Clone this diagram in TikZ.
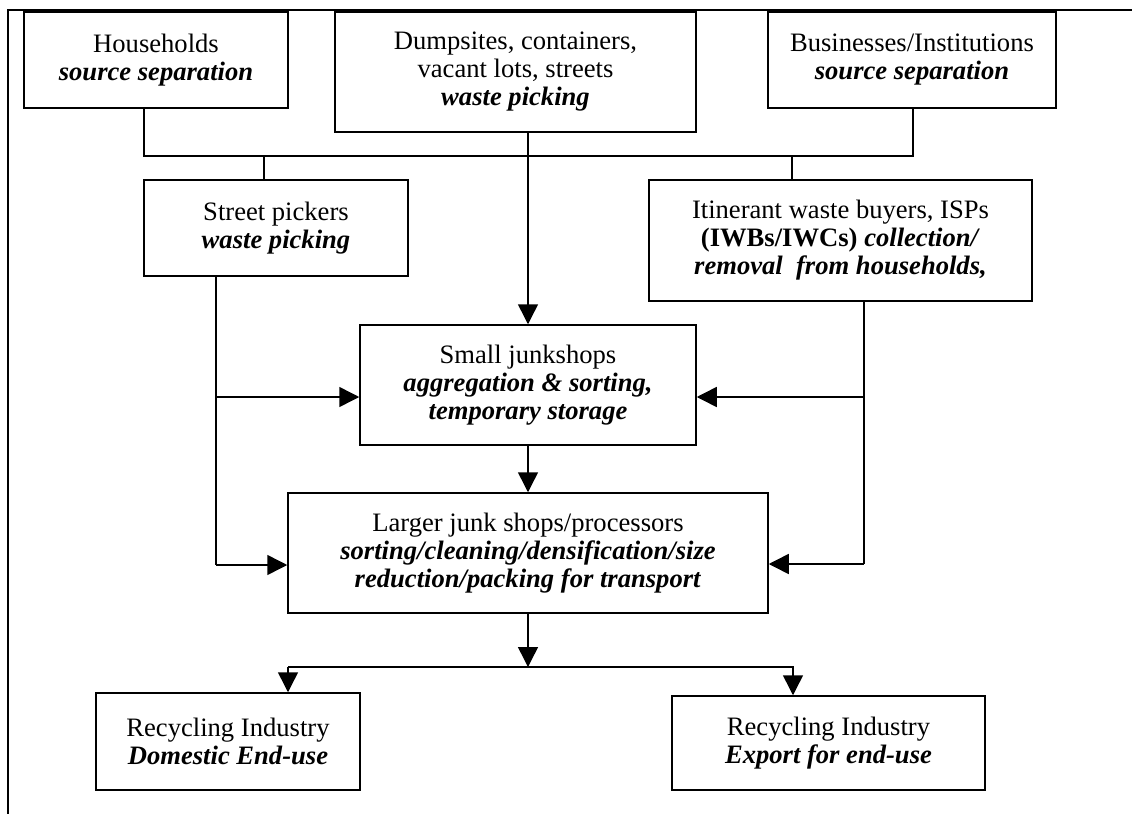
\documentclass[tikz,border=0pt]{standalone}
\usepackage{fontspec}
\setmainfont{Liberation Serif}
\usepackage{tikz}
\usetikzlibrary{positioning, arrows.meta}

\newcommand{\act}[1]{\textbf{\textit{#1}}}

\begin{document}
\begin{tikzpicture}[x=0.5pt, y=-0.5pt,
    box/.style={draw, line width=0.75pt, inner sep=0pt, align=center,
      font=\fontsize{13.3}{14}\selectfont},
    link/.style={line width=0.75pt},
    arr/.style={link, -{Triangle[length=10pt,width=10pt]}}]
    \useasboundingbox (0,0) rectangle (1132,814);
    \draw[line width=1pt] (8,814) -- (8,10) -- (1132,10);

    % sources
    \node(households)[box, minimum width=132pt, minimum height=48pt] at (156,60)
      {Households\\\act{source separation}};
    \node(dumpsites)[box, minimum width=180.5pt, minimum height=60pt] at (515.5,72)
      {Dumpsites, containers,\\vacant lots, streets\\\act{waste picking}};
    \node(businesses)[box, minimum width=144pt, minimum height=48pt] at (912,60)
      {Businesses/Institutions\\\act{source separation}};

    % collectors
    \node(street_pickers)[box, minimum width=132pt, minimum height=48pt] at (276,228)
      {Street pickers\\\act{waste picking}};
    \node(buyers)[box, minimum width=191.5pt, minimum height=60.5pt] at (840.5,240.5)
      {Itinerant waste buyers, ISPs\\\textbf{(IWBs/IWCs)} \act{collection/}\\\act{removal\ \ from households,}};

    % junkshops
    \node(small_shops)[box, minimum width=168pt, minimum height=60pt] at (528,385)
      {Small junkshops\\\act{aggregation \& sorting,}\\\act{temporary storage}};
    \node(large_shops)[box, minimum width=240pt, minimum height=60pt] at (528,553)
      {Larger junk shops/processors\\\act{sorting/cleaning/densification/size}\\\act{reduction/packing for transport}};

    % end use
    \node(domestic)[box, minimum width=132pt, minimum height=48.5pt] at (228,741.5)
      {Recycling Industry\\\act{Domestic End-use}};
    \node(export)[box, minimum width=156.5pt, minimum height=47pt] at (828.5,743)
      {Recycling Industry\\\act{Export for end-use}};

    \coordinate(join_l) at (144,156);
    \coordinate(join_r) at (913,156);
    \coordinate(tap_l) at (264,156);
    \coordinate(tap_r) at (792,156);
    \coordinate(feed_l_top) at (216,397);
    \coordinate(feed_l_bot) at (216,565);
    \coordinate(feed_r_top) at (864,397);
    \coordinate(feed_r_bot) at (864,564);
    \coordinate(split_l) at (288,667);
    \coordinate(split_r) at (793,667);

    \draw[link] (households.south -| join_l) -- (join_l) -- (join_r) -- (businesses.south -| join_r);
    \draw[link] (tap_l) -- (tap_l |- street_pickers.north);
    \draw[link] (tap_r) -- (tap_r |- buyers.north);
    \draw[arr] (small_shops.north |- dumpsites.south) -- (small_shops.north);
    \draw[arr] (small_shops.south) -- (small_shops.south |- large_shops.north);

    \draw[link] (street_pickers.south -| feed_l_bot) -- (feed_l_bot);
    \draw[arr] (feed_l_top) -- (small_shops.west |- feed_l_top);
    \draw[arr] (feed_l_bot) -- (large_shops.west |- feed_l_bot);
    \draw[link] (buyers.south -| feed_r_bot) -- (feed_r_bot);
    \draw[arr] (feed_r_top) -- (small_shops.east |- feed_r_top);
    \draw[arr] (feed_r_bot) -- (large_shops.east |- feed_r_bot);

    \draw[arr] (large_shops.south) -- (large_shops.south |- split_l);
    \draw[arr] (split_l) -- (split_l |- domestic.north);
    \draw[arr] (split_l) -- (split_r) -- (split_r |- export.north);
\end{tikzpicture}
\end{document}
